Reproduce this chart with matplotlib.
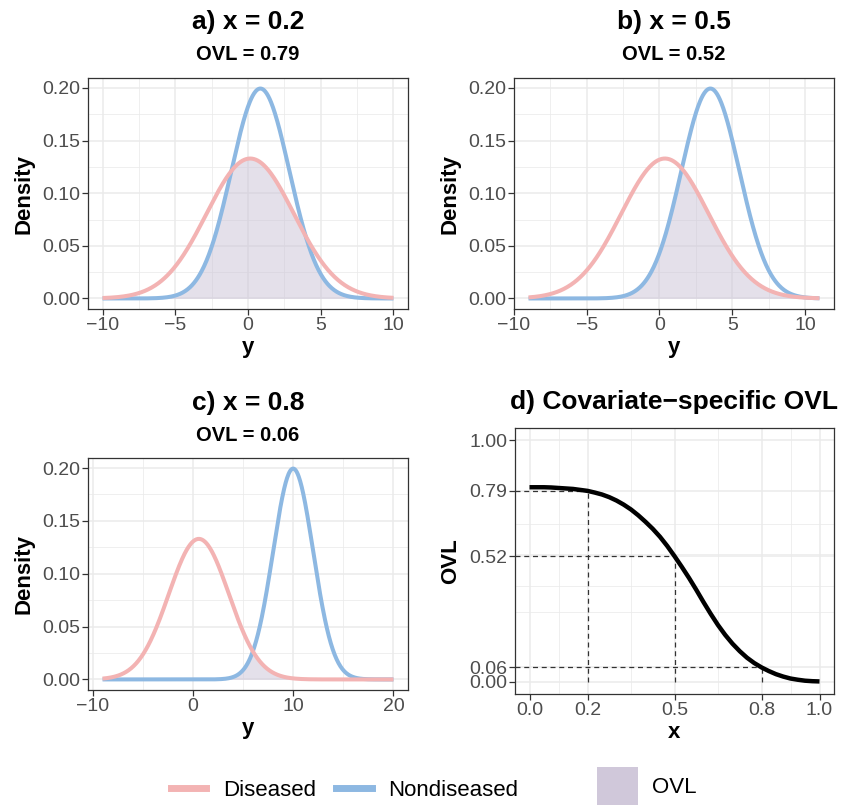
''' Covariate-specific overlap (OVL) of diseased and nondiseased densities,
three conditional densities plus the OVL curve along the covariate. '''

import numpy as np
import matplotlib
matplotlib.use("Agg")
import matplotlib.pyplot as plt
from matplotlib.lines import Line2D
from matplotlib.patches import Patch

## Set global matplotlib parameters
plt.rcParams["font.family"] = "Liberation Sans"
plt.rcParams["axes.linewidth"] = 0.9
plt.rcParams["axes.edgecolor"] = "#333333"
plt.rcParams["xtick.color"] = "#333333"
plt.rcParams["ytick.color"] = "#333333"
plt.rcParams["xtick.labelcolor"] = "#4D4D4D"
plt.rcParams["ytick.labelcolor"] = "#4D4D4D"
plt.rcParams["xtick.labelsize"] = 14
plt.rcParams["ytick.labelsize"] = 14

## ---------- data ----------
panel_letters = ["a", "b", "c"]
x_values = [0.2, 0.5, 0.8]
ovl_values = [0.79, 0.52, 0.06]

## normal densities per panel: mean and sd
diseased_mean = [0.15, 0.375, 0.6]
diseased_sd = [3.0, 3.0, 3.0]
nondiseased_mean = [0.85, 3.5, 10.0]
nondiseased_sd = [2.0, 2.0, 2.0]

## y range the densities were drawn over
y_from = [-10, -9, -9]
y_to = [10, 11, 20]

## tick labels
xticks_panels = [[-10, -5, 0, 5, 10], [-10, -5, 0, 5, 10], [-10, 0, 10, 20]]
xminor_panels = [[-7.5, -2.5, 2.5, 7.5], [-7.5, -2.5, 2.5, 7.5], [-5, 5, 15]]
density_ticks = [0.00, 0.05, 0.10, 0.15, 0.20]
density_minor = [0.025, 0.075, 0.125, 0.175]

## panel d: covariate-specific OVL curve
cov_x = [0.000, 0.025, 0.050, 0.075, 0.100, 0.125, 0.150, 0.175, 0.200, 0.225,
         0.250, 0.275, 0.300, 0.325, 0.350, 0.375, 0.400, 0.425, 0.450, 0.475,
         0.500, 0.525, 0.550, 0.575, 0.600, 0.625, 0.650, 0.675, 0.700, 0.725,
         0.750, 0.775, 0.800, 0.825, 0.850, 0.875, 0.900, 0.925, 0.950, 0.975, 1.000]
cov_ovl = [0.805, 0.805, 0.805, 0.804, 0.802, 0.800, 0.798, 0.794, 0.790, 0.783,
           0.775, 0.764, 0.750, 0.733, 0.713, 0.689, 0.662, 0.633, 0.600, 0.562,
           0.520, 0.476, 0.430, 0.381, 0.330, 0.281, 0.235, 0.194, 0.158, 0.127,
           0.100, 0.078, 0.060, 0.045, 0.032, 0.022, 0.014, 0.009, 0.005, 0.003, 0.002]
d_xticks = [0.0, 0.2, 0.5, 0.8, 1.0]
d_xminor = [0.1, 0.35, 0.65, 0.9]
d_yticks = [0.00, 0.06, 0.52, 0.79, 1.00]
d_yminor = [0.29, 0.395, 0.53, 0.655]

## colours
col_dis = "#F3B3B3"
col_nondis = "#8DB8E2"
col_ovl = "#CBC3D7"

W, H = 844, 810


def pdf(y, m, s):
	return np.exp(-0.5 * ((y - m) / s) ** 2) / (s * np.sqrt(2 * np.pi))


def add_panel(fig, left, top, right, bottom):
	'''Add an axes from pixel edges.'''
	return fig.add_axes([left / W, 1 - bottom / H, (right - left) / W, (bottom - top) / H])


def style_axes(ax, xmajor, xminor, ymajor, yminor):
	ax.set_xticks(xmajor)
	ax.set_xticks(xminor, minor=True)
	ax.set_yticks(ymajor)
	ax.set_yticks(yminor, minor=True)
	ax.grid(which="major", color="#EBEBEB", linewidth=1.1, zorder=0)
	ax.grid(which="minor", color="#EBEBEB", linewidth=0.55, zorder=0)
	ax.set_axisbelow(True)
	ax.tick_params(which="major", length=4, width=0.9, pad=1.5)
	ax.tick_params(which="minor", length=0)


def fig_text(x, y, s, **kw):
	fig.text(x / W, 1 - y / H, s, ha="center", va="center", **kw)


fig = plt.figure(figsize=(W / 100, H / 100), dpi=100)

## pixel boxes of panels a, b, c
boxes = [(88, 78, 408, 309), (514, 78, 834, 309), (88, 458, 408, 690)]
title_y = [(22, 55), (22, 55), (403, 435)]

for i in range(3):
	ax = add_panel(fig, *boxes[i])
	y = np.linspace(y_from[i], y_to[i], 600)
	f_d = pdf(y, diseased_mean[i], diseased_sd[i])
	f_n = pdf(y, nondiseased_mean[i], nondiseased_sd[i])

	## shaded overlap, then the two densities
	ax.fill_between(y, 0, np.minimum(f_d, f_n), color=col_ovl, alpha=0.5, linewidth=0, zorder=1)
	ax.plot(y, f_n, color=col_nondis, linewidth=2.9, zorder=2, solid_capstyle="butt")
	ax.plot(y, f_d, color=col_dis, linewidth=2.9, zorder=3, solid_capstyle="butt")

	style_axes(ax, xticks_panels[i], xminor_panels[i], density_ticks, density_minor)
	ax.set_yticklabels(["%.2f" % t for t in density_ticks])
	span = y_to[i] - y_from[i]
	ax.set_xlim(y_from[i] - 0.05 * span, y_to[i] + 0.05 * span)
	ax.set_ylim(-0.01, 0.2095)
	ax.set_xlabel("y", fontsize=16, fontweight="bold", labelpad=2.5)
	ax.set_ylabel("Density", fontsize=16, fontweight="bold", labelpad=6)

	cx = (boxes[i][0] + boxes[i][2]) / 2
	fig_text(cx, title_y[i][0], "%s) x = %s" % (panel_letters[i], x_values[i]),
	         fontsize=19, fontweight="bold")
	fig_text(cx, title_y[i][1], "OVL = %.2f" % ovl_values[i], fontsize=14.5, fontweight="bold")

## panel d
ax = add_panel(fig, 515, 428, 834, 694)
ax.plot(cov_x, cov_ovl, color="black", linewidth=3.2, zorder=3,
        solid_capstyle="butt", solid_joinstyle="round")
for xv, ov in zip(x_values, ovl_values):
	ax.plot([-0.05, xv], [ov, ov], color="#333333", linewidth=0.9, linestyle=(0, (4, 3)), zorder=2)
	ax.plot([xv, xv], [0, ov], color="#333333", linewidth=0.9, linestyle=(0, (4, 3)), zorder=2)
style_axes(ax, d_xticks, d_xminor, d_yticks, d_yminor)
ax.set_xticklabels(["%.1f" % t for t in d_xticks])
ax.set_yticklabels(["%.2f" % t for t in d_yticks])
ax.set_xlim(-0.05, 1.05)
ax.set_ylim(-0.05, 1.05)
ax.set_xlabel("x", fontsize=16, fontweight="bold", labelpad=2.5)
ax.set_ylabel("OVL", fontsize=16, fontweight="bold", labelpad=6)
fig_text(674, 402, "d) Covariate\u2212specific OVL", fontsize=19, fontweight="bold")

## legends (two side by side, as in ggplot)
line_handles = [Line2D([], [], color=col_dis, linewidth=5),
                Line2D([], [], color=col_nondis, linewidth=5)]
leg1 = fig.legend(line_handles, ["Diseased", "Nondiseased"], ncol=2, frameon=False,
                  fontsize=16, handlelength=1.6, handletextpad=0.75, columnspacing=0.9,
                  loc="center left", bbox_to_anchor=(162 / W, 1 - 790 / H), borderaxespad=0)
box_handle = [Patch(facecolor="#D0C8DA", edgecolor="none")]
fig.legend(box_handle, ["OVL"], frameon=False, fontsize=16, handlelength=1.85,
           handleheight=2.2, handletextpad=0.65, loc="center left",
           bbox_to_anchor=(588 / W, 1 - 786 / H), borderaxespad=0)

plt.savefig("out.png", dpi=100)
